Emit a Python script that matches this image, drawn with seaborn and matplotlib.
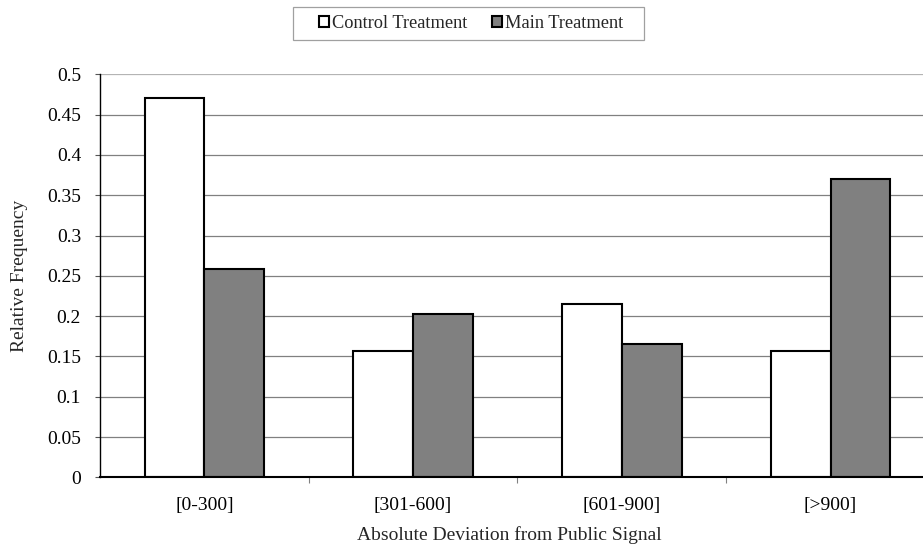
import matplotlib
matplotlib.use("Agg")
import matplotlib.pyplot as plt
import matplotlib.ticker as mticker
from matplotlib.patches import Rectangle
import seaborn as sns
import pandas as pd

# Relative frequency of absolute deviations, by treatment
categories = ["[0-300]", "[301-600]", "[601-900]", "[>900]"]
control_values = [0.471, 0.157, 0.215, 0.157]
main_values = [0.259, 0.203, 0.166, 0.370]
series_names = ["Control Treatment", "Main Treatment"]
y_ticks = [0, 0.05, 0.1, 0.15, 0.2, 0.25, 0.3, 0.35, 0.4, 0.45, 0.5]
y_tick_labels = ["0", "0.05", "0.1", "0.15", "0.2", "0.25", "0.3", "0.35", "0.4", "0.45", "0.5"]

df = pd.DataFrame({
    "category": categories * 2,
    "value": control_values + main_values,
    "series": [series_names[0]] * len(categories) + [series_names[1]] * len(categories),
})

sns.set_theme(style="white")
plt.rcParams["font.family"] = ["Liberation Serif", "DejaVu Serif"]

W, H = 923, 549
FS = 14
fig = plt.figure(figsize=(W / 100, H / 100), dpi=100)
left_px, right_px, top_px, bottom_px = 100, 923, 74.3, 477.3
ax = fig.add_axes([left_px / W, 1 - bottom_px / H,
                   (right_px - left_px) / W, (bottom_px - top_px) / H])

palette = {series_names[0]: "white", series_names[1]: "#808080"}
sns.barplot(data=df, x="category", y="value", hue="series", order=categories,
            hue_order=series_names, palette=palette, width=0.572, gap=0,
            edgecolor="black", linewidth=1.5, saturation=1, ax=ax, zorder=3)

# Horizontal gridlines
for t in y_ticks[1:]:
    ax.axhline(t, color="#b4b4b4" if t == 0.5 else "#808080", lw=0.9, zorder=1)

ax.set_ylim(0, 0.5)
ax.set_xlim(-0.5, 3.443)
ax.set_yticks(y_ticks)
ax.yaxis.set_major_formatter(mticker.FixedFormatter(y_tick_labels))
ax.set_xticks(range(len(categories)))
ax.set_xticklabels(categories)
ax.set_xticks([0.5, 1.5, 2.5], minor=True)

ax.tick_params(axis="x", which="major", length=0, pad=14, labelsize=FS, colors="black")
ax.tick_params(axis="x", which="minor", length=4, width=0.8, color="#808080", direction="out", bottom=True)
ax.tick_params(axis="y", which="major", length=3.6, width=0.8, color="#555555", direction="out",
               left=True, pad=10, labelsize=FS, labelcolor="black")

for side in ["top", "right"]:
    ax.spines[side].set_visible(False)
ax.spines["left"].set_color("black")
ax.spines["left"].set_linewidth(1.0)
ax.spines["bottom"].set_color("black")
ax.spines["bottom"].set_linewidth(1.5)
ax.spines["left"].set_zorder(4)
ax.spines["bottom"].set_zorder(4)

ax.set_xlabel("Absolute Deviation from Public Signal", fontsize=FS)
ax.set_ylabel("Relative Frequency", fontsize=FS)
ax.xaxis.label.set_va("center")
ax.yaxis.label.set_va("center")
ax.xaxis.set_label_coords((509 - left_px) / (right_px - left_px), -(535 - bottom_px) / (bottom_px - top_px))
ax.yaxis.set_label_coords((20 - left_px) / (right_px - left_px), 0.5)

# Legend above the plot, with a plain grey frame
handles, labels = ax.get_legend_handles_labels()
if ax.legend_:
    ax.legend_.remove()
leg = fig.legend(handles, labels, loc="center", bbox_to_anchor=(471 / W, 1 - 23.7 / H),
                 ncol=2, frameon=False, fontsize=13.2,
                 handlelength=0.55, handleheight=0.55,
                 handletextpad=0.15, columnspacing=1.37, borderpad=0.2,
                 borderaxespad=0)
fig.patches.append(Rectangle((292.7 / W, 1 - 40 / H), (644.3 - 292.7) / W, (40 - 7.3) / H,
                             transform=fig.transFigure, fill=False,
                             edgecolor="#a0a0a0", linewidth=0.9))

fig.savefig("out.png", dpi=100, facecolor="white")
